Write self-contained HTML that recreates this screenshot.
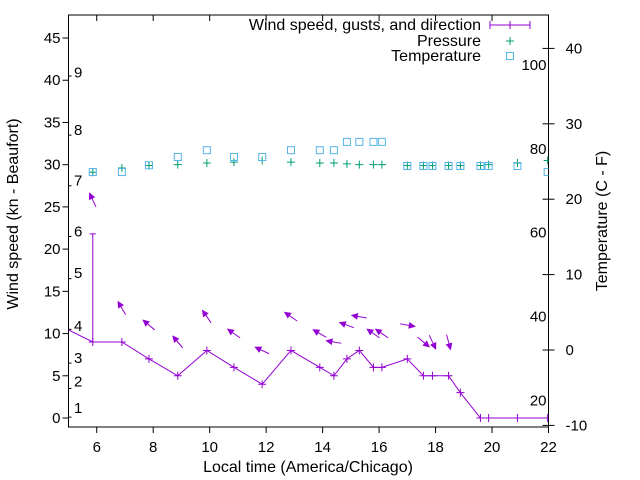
<!DOCTYPE html>
<html><head><meta charset="utf-8">
<style>
html,body{margin:0;padding:0;background:#fff;}
svg{display:block;font-family:"Liberation Sans",sans-serif;}
</style></head>
<body>
<svg id="chart" width="640" height="480" viewBox="0 0 640 480">
<defs><clipPath id="plotclip"><rect x="68.5" y="15" width="480" height="412"/></clipPath></defs>
</svg>
<script>
const times = [5.86,6.89,7.85,8.87,9.9,10.86,11.86,12.88,13.9,14.4,14.86,15.3,15.8,16.1,17.0,17.57,17.89,18.46,18.88,19.59,19.88,20.9,21.97];
const wind = [9,9,7,5,8,6,4,8,6,5,7,8,6,6,7,5,5,5,3,0,0,0,0];
const gust = [21.8,null,null,null,null,null,null,null,null,null,null,null,null,null,null,null,null,null,null,null,null,null,null];
const windDir = [155,150,130,140,145,125,115,125,120,100,110,100,125,125,280,310,335,345,null,null,null,null,null];
const pressure = [29.1,29.6,29.9,30.0,30.2,30.3,30.5,30.3,30.2,30.2,30.1,30.0,30.0,30.0,29.9,29.9,29.9,29.9,29.9,29.9,30.0,30.2,30.5];
const tempC = [23.6,23.6,24.5,25.6,26.5,25.6,25.6,26.5,26.5,26.5,27.6,27.6,27.6,27.6,24.4,24.4,24.4,24.4,24.4,24.4,24.4,24.4,23.6];
const prevTime = 4.9, prevWind = 10.6;
const xTicks = [6,8,10,12,14,16,18,20,22];
const yTicks = [0,5,10,15,20,25,30,35,40,45];
const cTicks = [-10,0,10,20,30,40];
const fTicks = [20,40,60,80,100];
const beaufortLabels = ["1","2","3","4","5","6","7","8","9"];
const beaufortPos = [1.2,4.3,7.1,10.9,17.2,22.1,28.1,34.1,40.9];
const beaufortEdges = [0.1,3.5,6.5,10.5,16.5,21.5,27.5,33.5,40.5];

const L=68.5,R=548.5,T=15,B=427;
const X = t => L + (t-5)*(R-L)/17;
const Y = v => 418 - v*8.444;
const YC = c => 350 - c*7.54;
const svg = document.getElementById('chart');
const NS='http://www.w3.org/2000/svg';
function mk(tag, attrs, parent){const e=document.createElementNS(NS,tag);for(const k in attrs)e.setAttribute(k,attrs[k]);(parent||svg).appendChild(e);return e;}

const frame = mk('rect',{x:L,y:T,width:R-L,height:B-T,fill:'none',stroke:'#000','stroke-width':1});



xTicks.forEach(t=>{
  const x=X(t);
  const tk=mk('line',{x1:x,y1:B,x2:x,y2:B+6,stroke:'#000'});
  
  
  const tk2=mk('line',{x1:x,y1:T,x2:x,y2:T+6,stroke:'#000'});
  
  
  const tx=mk('text',{x:x,y:452,'font-size':15,'text-anchor':'middle'});
  tx.textContent=t;
  
  
});
yTicks.forEach(v=>{
  const y=Y(v);
  const tk=mk('line',{x1:L-6,y1:y,x2:L,y2:y,stroke:'#000'});
  
  
  const tx=mk('text',{x:L-8,y:y+5,'font-size':15,'text-anchor':'end'});
  tx.textContent=v;
  
  
});
beaufortEdges.forEach(v=>{
  const tk=mk('line',{x1:L,y1:Y(v),x2:L+3,y2:Y(v),stroke:'#000'});
  
  
});
beaufortLabels.forEach((s,i)=>{
  const tx=mk('text',{x:74,y:Y(beaufortPos[i])+5,'font-size':15});
  tx.textContent=s;
  
  
});
cTicks.forEach(c=>{
  const y=YC(c);
  const tk=mk('line',{x1:R,y1:y,x2:R+6,y2:y,stroke:'#000'});
  
  
  const tk2=mk('line',{x1:R-6,y1:y,x2:R,y2:y,stroke:'#000'});
  
  
  const tx=mk('text',{x:R+17,y:y+5,'font-size':15});
  tx.textContent=c;
  
  
});
fTicks.forEach(f=>{
  const c=(f-32)*5/9;
  const tx=mk('text',{x:R-2,y:YC(c)+5,'font-size':15,'text-anchor':'end'});
  tx.textContent=f;
  
  
});

const xt=mk('text',{x:308,y:472,'font-size':16,'text-anchor':'middle'});
xt.textContent='Local time (America/Chicago)';


const yt=mk('text',{x:0,y:0,'font-size':16,'text-anchor':'middle',transform:'translate(18,214) rotate(-90)'});
yt.textContent='Wind speed (kn - Beaufort)';


const yt2=mk('text',{x:0,y:0,'font-size':16,'text-anchor':'middle',transform:'translate(607,221) rotate(-90)'});
yt2.textContent='Temperature (C - F)';



const plot=mk('g',{'clip-path':'url(#plotclip)'});


const PURPLE='#9400d3',GREEN='#009e73',BLUE='#56b4e9';

let d='M'+X(prevTime)+','+Y(prevWind);
times.forEach((t,i)=>{d+=' L'+X(t)+','+Y(wind[i]);});
const wl=mk('path',{d:d,fill:'none',stroke:PURPLE,'stroke-width':1},plot);


times.forEach((t,i)=>{
  const x=X(t),y=Y(wind[i]);
  const p=mk('path',{d:`M${x-4},${y}H${x+4}M${x},${y-4}V${y+4}`,stroke:PURPLE,'stroke-width':1},plot);
  
  
  if(gust[i]!=null){
    const g=mk('path',{d:`M${x},${y}V${Y(gust[i])}M${x-3},${Y(gust[i])}H${x+3}`,stroke:PURPLE,'stroke-width':1},plot);
    
    
  }
  if(windDir[i]!=null){
    const top=Math.max(wind[i],gust[i]||0)+4;
    const cy=Y(top),cx=x;
    const a=(windDir[i]+180)*Math.PI/180;
    const dx=Math.sin(a)*7.5, dy=-Math.cos(a)*7.5;
    const hx=cx+dx,hy=cy+dy,tx=cx-dx,ty=cy-dy;
    const ang=Math.atan2(dy,dx);
    const w1x=hx-6*Math.cos(ang-0.45),w1y=hy-6*Math.sin(ang-0.45);
    const w2x=hx-6*Math.cos(ang+0.45),w2y=hy-6*Math.sin(ang+0.45);
    const ar=mk('path',{d:`M${tx},${ty}L${hx},${hy}`,stroke:PURPLE,'stroke-width':1},plot);
    
    
    const hd=mk('path',{d:`M${hx},${hy}L${w1x},${w1y}L${w2x},${w2y}Z`,fill:PURPLE,stroke:PURPLE},plot);
    
    
  }
});
times.forEach((t,i)=>{
  const x=X(t),y=Y(pressure[i]);
  const p=mk('path',{d:`M${x-4},${y}H${x+4}M${x},${y-4}V${y+4}`,stroke:GREEN,'stroke-width':1},plot);
  
  
});
times.forEach((t,i)=>{
  const x=X(t),y=YC(tempC[i]);
  const s=mk('rect',{x:x-3.5,y:y-3.5,width:7,height:7,fill:'none',stroke:BLUE,'stroke-width':1},plot);
  
  
});

const lg=mk('g',{});


const entries=[['Wind speed, gusts, and direction',30],['Pressure',46],['Temperature',61]];
entries.forEach(([s,y])=>{
  const tx=mk('text',{x:481,y:y,'font-size':16,'text-anchor':'end'},lg);
  tx.textContent=s;
  
  
});
const l1=mk('path',{d:'M490,25H530M490,21V29M530,21V29M506,25H514M510,21V29',stroke:PURPLE,fill:'none'},lg);


const l2=mk('path',{d:'M506,41H514M510,37V45',stroke:GREEN},lg);


const l3=mk('rect',{x:506.5,y:52.5,width:7,height:7,fill:'none',stroke:BLUE},lg);


</script>
</body></html>
